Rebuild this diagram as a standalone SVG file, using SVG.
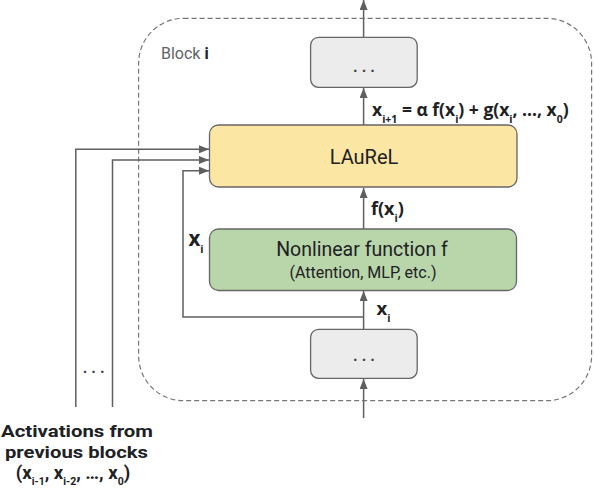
<svg xmlns="http://www.w3.org/2000/svg" width="594" height="492" viewBox="0 0 594 492">
<defs>
<marker id="ah" markerUnits="userSpaceOnUse" markerWidth="10" markerHeight="8" refX="10" refY="4" orient="auto">
<path d="M0,0 L10,4 L0,8 z" fill="#5f5f5f"/>
</marker>
<style>
text{font-family:Roboto,"Liberation Sans",sans-serif;fill:#202124}
.b{font-family:"Open Sans",Roboto,sans-serif;font-weight:bold}
.rb{font-weight:bold}
.box{stroke:#666;stroke-width:1.3}
.gray{fill:#ececec}
.c{stroke:#5f5f5f;stroke-width:1.5;fill:none}
.dots{font-size:16px;font-weight:bold;text-anchor:middle;fill:#444}
.sub{font-size:10.5px}
</style>
</defs>
<rect x="138.6" y="18.3" width="453" height="382.4" rx="45" fill="none" stroke="#777" stroke-width="1.2" stroke-dasharray="5,3"/>
<text x="161" y="58.5" font-size="16" style="fill:#5f6368">Block <tspan style="fill:#202124;font-weight:bold">i</tspan></text>
<g id="connectors">
<line class="c" x1="363.6" y1="37.3" x2="363.6" y2="0" marker-end="url(#ah)"/>
<line class="c" x1="363.6" y1="125" x2="363.6" y2="88" marker-end="url(#ah)"/>
<line class="c" x1="363.6" y1="229" x2="363.6" y2="188" marker-end="url(#ah)"/>
<line class="c" x1="363.6" y1="329" x2="363.6" y2="291" marker-end="url(#ah)"/>
<line class="c" x1="363.6" y1="418" x2="363.6" y2="379" marker-end="url(#ah)"/>
<path class="c" d="M75.8,407 V149.3 H209" marker-end="url(#ah)"/>
<path class="c" d="M112.5,407 V160 H209" marker-end="url(#ah)"/>
<path class="c" d="M363.6,317 H183 V170.7 H209" marker-end="url(#ah)"/>
<text class="b" x="372" y="115.5" font-size="17.5">x<tspan class="sub" dy="7">i+1</tspan><tspan dy="-7"> = α f(x</tspan><tspan class="sub" dy="7">i</tspan><tspan dy="-7">) + g(x</tspan><tspan class="sub" dy="7">i</tspan><tspan dy="-7">, …, x</tspan><tspan class="sub" dy="7">0</tspan><tspan dy="-7">)</tspan></text>
<text class="b" x="371" y="215" font-size="18">f(x<tspan class="sub" dy="7">i</tspan><tspan dy="-7">)</tspan></text>
<text class="b" x="188.5" y="246" font-size="20.5">x<tspan class="sub" dy="7">i</tspan></text>
<text class="b" x="376.5" y="315" font-size="18.5">x<tspan class="sub" dy="7">i</tspan></text>
<text class="dots" x="93.7" y="373">. . .</text>
</g>
<g id="top-box">
<rect class="box gray" x="310.6" y="37.3" width="106.6" height="50" rx="8"/>
<text class="dots" x="364" y="72">. . .</text>
</g>
<g id="laurel">
<rect class="box" x="209.5" y="125" width="307.5" height="62" rx="9" fill="#fbe6a4"/>
<text x="364" y="164" font-size="20" text-anchor="middle">LAuReL</text>
</g>
<g id="nonlinear">
<rect class="box" x="209.5" y="229" width="307" height="61.5" rx="9" fill="#b9d6aa"/>
<text x="362" y="255.7" font-size="19.5" text-anchor="middle">Nonlinear function f</text>
<text x="363" y="278" font-size="16" text-anchor="middle">(Attention, MLP, etc.)</text>
</g>
<g id="bottom-box">
<rect class="box gray" x="310.6" y="329.3" width="106.6" height="49" rx="8"/>
<text class="dots" x="364" y="361">. . .</text>
</g>
<g id="activations">
<text class="rb" x="1" y="436.5" font-size="17" textLength="152" lengthAdjust="spacingAndGlyphs">Activations from</text>
<text class="rb" x="5" y="457.5" font-size="17" textLength="143" lengthAdjust="spacingAndGlyphs">previous blocks</text>
<text class="rb" x="73" y="478.5" font-size="18.5" text-anchor="middle">(x<tspan class="sub" dy="6">i-1</tspan><tspan dy="-6">, x</tspan><tspan class="sub" dy="6">i-2</tspan><tspan dy="-6">, …, x</tspan><tspan class="sub" dy="6">0</tspan><tspan dy="-6">)</tspan></text>
</g>
</svg>
